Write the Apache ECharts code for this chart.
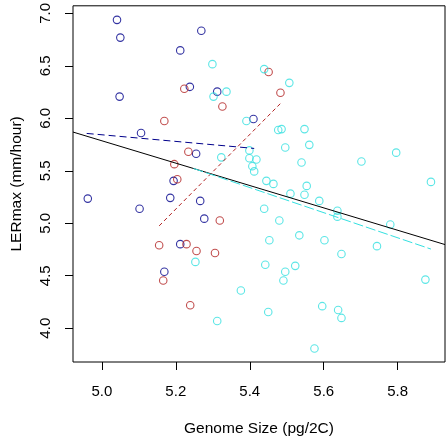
<!DOCTYPE html>
<html><head><meta charset="utf-8">
<script src="https://cdn.jsdelivr.net/npm/echarts@6/dist/echarts.min.js"></script>
<style>html,body{margin:0;padding:0;background:#fff}#c{width:446px;height:442px}</style>
</head><body><div id="c"></div>
<script>
const xTicks = [5.0, 5.2, 5.4, 5.6, 5.8];
const yTicks = [4.0, 4.5, 5.0, 5.5, 6.0, 6.5, 7.0];

const navyPts = [[5.041,6.938],[5.050,6.769],[5.269,6.835],[5.212,6.647],[5.238,6.30],[5.312,6.254],[5.048,6.207],[5.410,5.994],[5.106,5.86],[5.255,5.663],[5.194,5.404],[4.962,5.235],[5.185,5.242],[5.266,5.213],[5.102,5.138],[5.277,5.044],[5.212,4.801],[5.169,4.538]];
const redPts = [[5.223,6.282],[5.326,6.113],[5.169,5.975],[5.234,5.682],[5.196,5.563],[5.204,5.419],[5.451,6.441],[5.483,6.244],[5.319,5.026],[5.155,4.791],[5.229,4.801],[5.256,4.735],[5.306,4.716],[5.166,4.454],[5.239,4.219]];
const cyanPts = [[5.299,6.516],[5.302,6.207],[5.337,6.254],[5.391,5.975],[5.399,5.694],[5.323,5.628],[5.399,5.619],[5.418,5.607],[5.407,5.544],[5.412,5.494],[5.439,6.469],[5.507,6.338],[5.477,5.888],[5.486,5.897],[5.548,5.897],[5.496,5.722],[5.561,5.747],[5.540,5.579],[5.702,5.588],[5.796,5.673],[5.890,5.394],[5.445,5.404],[5.464,5.375],[5.554,5.356],[5.510,5.282],[5.548,5.272],[5.588,5.213],[5.439,5.138],[5.637,5.119],[5.637,5.063],[5.480,5.026],[5.780,4.988],[5.534,4.885],[5.453,4.838],[5.602,4.838],[5.744,4.782],[5.648,4.707],[5.442,4.604],[5.523,4.594],[5.496,4.538],[5.491,4.454],[5.875,4.463],[5.376,4.36],[5.596,4.21],[5.450,4.154],[5.639,4.173],[5.648,4.098],[5.575,3.807],[5.253,4.632],[5.312,4.069]];

const allFit = [[4.922,5.869],[5.928,4.797]];
const navyFit = [[4.959,5.856],[5.412,5.713]];
const redFit = [[5.155,4.975],[5.483,6.141]];
const cyanFit = [[5.248,5.522],[5.890,4.754]];

const NAVY = '#00008B', RED = '#B22222', CYAN = '#33E0E0';
const FONT = 'Liberation Sans';

function pts(data, color) {
  return { type: 'scatter', data: data, symbol: 'circle', symbolSize: 7.5,
    itemStyle: { color: 'rgba(0,0,0,0)', borderColor: color, borderWidth: 1.1 }, z: 2, silent: true };
}
function fit(data, color, type) {
  return { type: 'line', data: data, symbol: 'none', z: 3, silent: true,
    lineStyle: { color: color, width: 1, type: type } };
}

const chart = echarts.init(document.getElementById('c'), null, { renderer: 'canvas' });
chart.setOption({
  animation: false,
  backgroundColor: '#fff',
  grid: { left: 73, right: 1, top: 3, bottom: 77, show: true, borderColor: '#000', borderWidth: 1, backgroundColor: 'transparent' },
  xAxis: {
    type: 'value', min: 4.922, max: 5.928,
    name: 'Genome Size (pg/2C)', nameLocation: 'middle', nameGap: 59,
    nameTextStyle: { fontFamily: FONT, fontSize: 15.5, color: '#000' },
    axisLine: { show: false }, splitLine: { show: false },
    axisTick: { show: true, inside: false, length: 8, customValues: xTicks, lineStyle: { color: '#000' } },
    axisLabel: { customValues: xTicks, margin: 22, fontFamily: FONT, fontSize: 15, color: '#000', formatter: v => v.toFixed(1) }
  },
  yAxis: {
    type: 'value', min: 3.678, max: 7.072,
    name: 'LERmax (mm/hour)', nameLocation: 'middle', nameGap: 48, nameRotate: 90,
    nameTextStyle: { fontFamily: FONT, fontSize: 15.5, color: '#000' },
    axisLine: { show: false }, splitLine: { show: false },
    axisTick: { show: true, inside: false, length: 8, customValues: yTicks, lineStyle: { color: '#000' } },
    axisLabel: { customValues: yTicks, rotate: 90, margin: 20, fontFamily: FONT, fontSize: 15, color: '#000', formatter: v => v.toFixed(1) }
  },
  series: [
    pts(navyPts, NAVY), pts(redPts, RED), pts(cyanPts, CYAN),
    fit(allFit, '#000', 'solid'),
    fit(navyFit, NAVY, [7, 4]),
    fit(redFit, RED, [4, 3]),
    fit(cyanFit, CYAN, [10, 3])
  ]
});
</script></body></html>
